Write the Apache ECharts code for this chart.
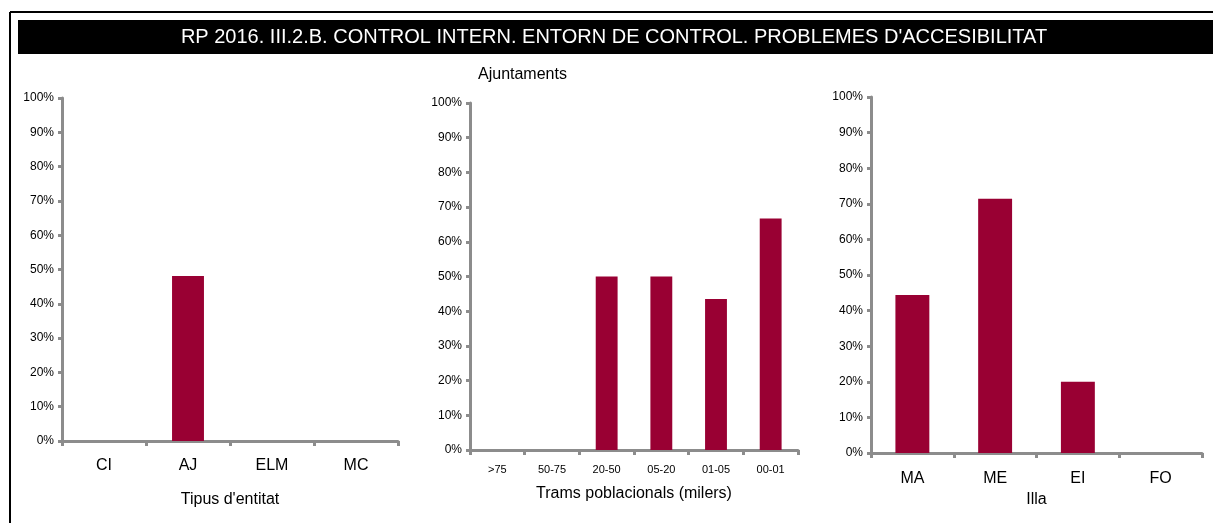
<!DOCTYPE html>
<html>
<head>
<meta charset="utf-8">
<script src="https://cdn.jsdelivr.net/npm/echarts@6/dist/echarts.min.js"></script>
<style>
  html, body { margin: 0; padding: 0; background: #fff; }
  #main { width: 1213px; height: 523px; }
</style>
</head>
<body>
<div id="main"></div>
<script>
// dades dels tres gràfics
var entitatCats = ['CI', 'AJ', 'ELM', 'MC'];
var entitatVals = [0, 48.1, 0, 0];

var tramsCats = ['>75', '50-75', '20-50', '05-20', '01-05', '00-01'];
var tramsVals = [0, 0, 50, 50, 43.5, 66.7];

var illaCats = ['MA', 'ME', 'EI', 'FO'];
var illaVals = [44.4, 71.4, 20, 0];

var FONT = '"Liberation Sans", Arial, sans-serif';
var BAR = '#990033';
var AXIS = '#8c8c8c';

function yAxis(idx) {
    return {
        type: 'value', gridIndex: idx, min: 0, max: 100, interval: 10,
        axisLine: { show: true, lineStyle: { color: AXIS, width: 3 } },
        axisTick: { show: true, length: 4, lineStyle: { color: AXIS, width: 3 } },
        splitLine: { show: false },
        axisLabel: { formatter: '{value}%', color: '#000', fontFamily: FONT, fontSize: 12, margin: 8 }
    };
}
function xAxis(idx, cats, name, fs, margin, nameGap) {
    return {
        type: 'category', gridIndex: idx, data: cats,
        name: name, nameLocation: 'middle', nameGap: nameGap,
        nameTextStyle: { color: '#000', fontFamily: FONT, fontSize: 16 },
        axisLine: { lineStyle: { color: AXIS, width: 3 } },
        axisTick: { show: true, length: 5, lineStyle: { color: AXIS, width: 3 } },
        axisLabel: { color: '#000', fontFamily: FONT, fontSize: fs, margin: margin }
    };
}
function bars(idx, vals, w) {
    return {
        type: 'bar', xAxisIndex: idx, yAxisIndex: idx, data: vals,
        barWidth: w, itemStyle: { color: BAR }, silent: true
    };
}

var myChart = echarts.init(document.getElementById('main'));
myChart.setOption({
    animation: false,
    grid: [
        { left: 62, top: 98, width: 336, height: 343 },
        { left: 470, top: 103, width: 328, height: 347 },
        { left: 871, top: 97, width: 331, height: 356 }
    ],
    xAxis: [
        xAxis(0, entitatCats, "Tipus d'entitat", 16, 17, 51),
        xAxis(1, tramsCats, 'Trams poblacionals (milers)', 11, 14, 36),
        xAxis(2, illaCats, 'Illa', 16, 18, 37)
    ],
    yAxis: [yAxis(0), yAxis(1), yAxis(2)],
    series: [
        bars(0, entitatVals, '38%'),
        bars(1, tramsVals, '40%'),
        bars(2, illaVals, '41%')
    ],
    graphic: [
        // marc exterior
        { type: 'line', shape: { x1: 10, y1: 12, x2: 1213, y2: 12 }, style: { stroke: '#000', lineWidth: 2 } },
        { type: 'line', shape: { x1: 10, y1: 12, x2: 10, y2: 523 }, style: { stroke: '#000', lineWidth: 2 } },
        // barra del títol
        { type: 'rect', shape: { x: 18, y: 20, width: 1195, height: 34 }, style: { fill: '#000' } },
        { type: 'text', x: 614, y: 37,
          style: { text: "RP 2016. III.2.B. CONTROL INTERN. ENTORN DE CONTROL. PROBLEMES D'ACCESIBILITAT",
                   fill: '#fff', font: '20px ' + FONT, textAlign: 'center', textVerticalAlign: 'middle' } },
        { type: 'text', x: 478, y: 75,
          style: { text: 'Ajuntaments', fill: '#000', font: '16px ' + FONT, textVerticalAlign: 'middle' } }
    ]
});
</script>
</body>
</html>
